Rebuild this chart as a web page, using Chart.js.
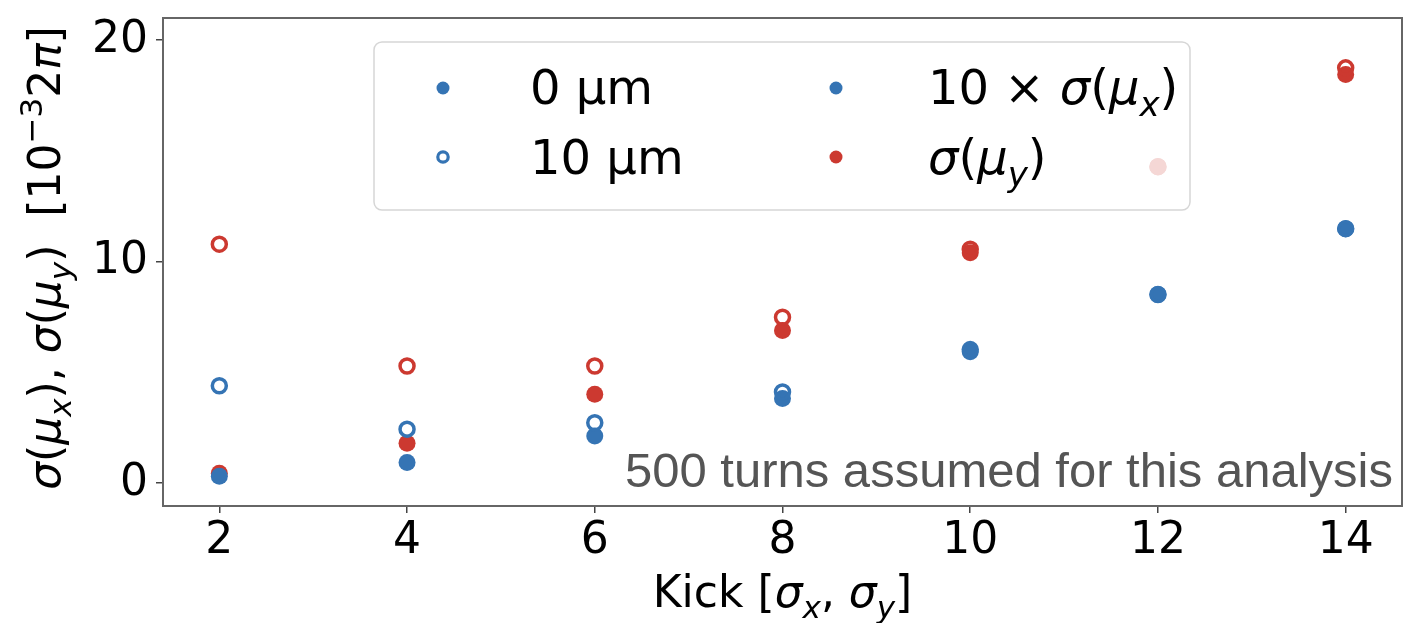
<!DOCTYPE html>
<html>
<head>
<meta charset="utf-8">
<script src="https://cdn.jsdelivr.net/npm/chart.js@4"></script>
<style>
  html, body { margin: 0; padding: 0; background: #fff; }
  #wrap { width: 1422px; height: 623px; position: relative; }
</style>
</head>
<body>
<div id="wrap"><canvas id="chart"></canvas></div>
<script>
// kick strength in units of sigma
const kicks = [2, 4, 6, 8, 10, 12, 14];
// 10 x sigma(mu_x) and sigma(mu_y), units 1e-3 * 2pi
const sigX_0um  = [0.31, 0.93, 2.13, 3.82, 5.93, 8.52, 11.49];
const sigX_10um = [4.40, 2.44, 2.73, 4.12, 6.03, 8.52, 11.49];
const sigY_0um  = [0.45, 1.80, 4.01, 6.89, 10.40, 14.29, 18.45];
const sigY_10um = [10.79, 5.29, 5.29, 7.49, 10.56, 14.29, 18.75];
const xTicks = [2, 4, 6, 8, 10, 12, 14];
const yTicks = [0, 10, 20];

const BLUE = '#3574b4', RED = '#cc3930';
const FONT = '"DejaVu Sans"';

const pts = (ys) => kicks.map((x, i) => ({ x, y: ys[i] }));
const open = (label, ys, c) => ({ label, data: pts(ys), showLine: false,
  pointRadius: 7, pointBorderWidth: 3.5, pointBorderColor: c, pointBackgroundColor: 'rgba(0,0,0,0)' });
const filled = (label, ys, c) => ({ label, data: pts(ys), showLine: false,
  pointRadius: 8.5, pointBorderWidth: 0, pointBackgroundColor: c, pointBorderColor: c });

// rich text: segments {t, it, sub, sup}
function segFont(s, size) {
  const sz = (s.sub || s.sup) ? Math.round(size * 0.7) : size;
  return `${s.it ? 'italic ' : ''}${sz}px ${FONT}`;
}
function richWidth(ctx, segs, size) {
  let w = 0;
  segs.forEach(s => { ctx.font = segFont(s, size); w += ctx.measureText(s.t).width; });
  return w;
}
function drawRich(ctx, segs, x, y, size, align) {
  ctx.save();
  ctx.textAlign = 'left'; ctx.textBaseline = 'alphabetic';
  let cx = align === 'center' ? x - richWidth(ctx, segs, size) / 2 : x;
  segs.forEach(s => {
    ctx.font = segFont(s, size);
    const dy = s.sub ? size * 0.24 : s.sup ? -size * 0.42 : 0;
    ctx.fillText(s.t, cx, y + dy);
    cx += ctx.measureText(s.t).width;
  });
  ctx.restore();
}

const xLabel = [{t: 'Kick ['}, {t: 'σ', it: 1}, {t: 'x', sub: 1, it: 1}, {t: ', '},
  {t: 'σ', it: 1}, {t: 'y', sub: 1, it: 1}, {t: ']'}];
const yLabel = [{t: 'σ', it: 1}, {t: '('}, {t: 'μ', it: 1}, {t: 'x', sub: 1, it: 1}, {t: '), '},
  {t: 'σ', it: 1}, {t: '('}, {t: 'μ', it: 1}, {t: 'y', sub: 1, it: 1}, {t: ')  [10'},
  {t: '−3', sup: 1}, {t: '2'}, {t: 'π', it: 1}, {t: ']'}];

const decor = {
  id: 'decor',
  afterDatasetsDraw(chart) {
    const { ctx, chartArea: a } = chart;
    ctx.save();
    // spines
    ctx.strokeStyle = '#666'; ctx.lineWidth = 2;
    ctx.strokeRect(a.left, a.top, a.right - a.left, a.bottom - a.top);

    // annotation
    ctx.fillStyle = '#555';
    ctx.font = '49px "Liberation Sans"';
    ctx.textAlign = 'right'; ctx.textBaseline = 'alphabetic';
    ctx.fillText('500 turns assumed for this analysis', 1393, 487);

    // legend box (semi-transparent like matplotlib)
    ctx.beginPath();
    ctx.roundRect(374, 42, 816, 168, 8);
    ctx.fillStyle = 'rgba(255,255,255,0.8)'; ctx.fill();
    ctx.strokeStyle = '#d6d6d6'; ctx.lineWidth = 1.5; ctx.stroke();

    const dot = (x, y, c) => { ctx.beginPath(); ctx.arc(x, y, 6.5, 0, Math.PI * 2); ctx.fillStyle = c; ctx.fill(); };
    const ring = (x, y, c) => { ctx.beginPath(); ctx.arc(x, y, 5.2, 0, Math.PI * 2); ctx.strokeStyle = c; ctx.lineWidth = 3.2; ctx.stroke(); };
    dot(443, 88, BLUE); ring(443, 157, BLUE);
    dot(836, 88, BLUE); dot(836, 157, RED);
    ctx.fillStyle = '#000';
    drawRich(ctx, [{t: '0 µm'}], 530, 104, 48);
    drawRich(ctx, [{t: '10 µm'}], 530, 174, 48);
    drawRich(ctx, [{t: '10 × '}, {t: 'σ', it: 1}, {t: '('}, {t: 'μ', it: 1}, {t: 'x', sub: 1, it: 1}, {t: ')'}], 928, 104, 48);
    drawRich(ctx, [{t: 'σ', it: 1}, {t: '('}, {t: 'μ', it: 1}, {t: 'y', sub: 1, it: 1}, {t: ')'}], 928, 174, 48);

    // axis titles
    drawRich(ctx, xLabel, (a.left + a.right) / 2, 607, 44, 'center');
    ctx.translate(60, 258);
    ctx.rotate(-Math.PI / 2);
    drawRich(ctx, yLabel, 0, 0, 44, 'center');
    ctx.restore();
  }
};

new Chart(document.getElementById('chart'), {
  type: 'scatter',
  data: {
    datasets: [
      open('10 µm σ(μx)', sigX_10um, BLUE),
      open('10 µm σ(μy)', sigY_10um, RED),
      filled('0 µm σ(μx)', sigX_0um, BLUE),
      filled('0 µm σ(μy)', sigY_0um, RED),
    ]
  },
  options: {
    responsive: true, maintainAspectRatio: false, animation: false,
    layout: { padding: { top: 18, right: 20, left: 0, bottom: 0 } },
    plugins: { legend: { display: false }, tooltip: { enabled: false } },
    scales: {
      x: {
        type: 'linear', min: 1.4, max: 14.6,
        afterBuildTicks: s => { s.ticks = xTicks.map(v => ({ value: v })); },
        afterFit: s => { s.height = 117; s.paddingLeft = 0; s.paddingRight = 0; },
        grid: { drawOnChartArea: false, drawTicks: true, tickLength: 7, color: '#444', lineWidth: 1.5 },
        border: { display: true, color: '#666', width: 2 },
        ticks: { color: '#000', padding: 2, maxRotation: 0, font: { family: FONT, size: 44 } }
      },
      y: {
        type: 'linear', min: -1.03, max: 21,
        afterBuildTicks: s => { s.ticks = yTicks.map(v => ({ value: v })); },
        afterFit: s => { s.width = 163; s.paddingTop = 0; s.paddingBottom = 0; },
        grid: { drawOnChartArea: false, drawTicks: true, tickLength: 7, color: '#444', lineWidth: 1.5 },
        border: { display: true, color: '#666', width: 2 },
        ticks: { color: '#000', padding: 8, font: { family: FONT, size: 44 } }
      }
    }
  },
  plugins: [decor]
});
</script>
</body>
</html>
